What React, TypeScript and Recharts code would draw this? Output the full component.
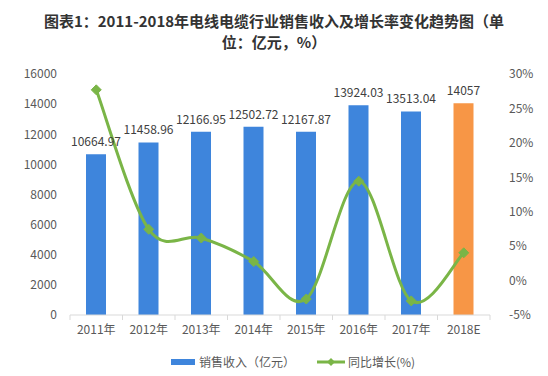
import {
  Bar,
  ComposedChart,
  Cell,
  LabelList,
  Line,
  XAxis,
  YAxis,
} from 'recharts';

const years = ['2011年', '2012年', '2013年', '2014年', '2015年', '2016年', '2017年', '2018E'];
const revenue = [10664.97, 11458.96, 12166.95, 12502.72, 12167.87, 13924.03, 13513.04, 14057];
const growth = [27.7, 7.44, 6.18, 2.76, -2.68, 14.43, -2.95, 4.03];
const leftTicks = [0, 2000, 4000, 6000, 8000, 10000, 12000, 14000, 16000];
const rightTicks = [-5, 0, 5, 10, 15, 20, 25, 30];

const BLUE = '#3e85dc';
const ORANGE = '#f79646';
const GREEN = '#7ab547';
const TEXT = '#595959';
const FONT = '"Noto Sans CJK SC", "Noto Sans", sans-serif';

const chartData = years.map((y, i) => ({ year: y, revenue: revenue[i], growth: growth[i] }));

const BAND = 52.5;

// excel-style smoothed line (catmull-rom through every point)
const smoothCurve = (context: any) => {
  let pts: number[][] = [];
  return {
    areaStart() {},
    areaEnd() {},
    lineStart() {
      pts = [];
    },
    point(x: number, y: number) {
      pts.push([+x, +y]);
    },
    lineEnd() {
      if (!pts.length) return;
      context.moveTo(pts[0][0], pts[0][1]);
      const t = 1 / 6;
      for (let i = 0; i < pts.length - 1; i++) {
        const p0 = pts[i - 1] || pts[i];
        const p1 = pts[i];
        const p2 = pts[i + 1];
        const p3 = pts[i + 2] || p2;
        context.bezierCurveTo(
          p1[0] + (p2[0] - p0[0]) * t,
          p1[1] + (p2[1] - p0[1]) * t,
          p2[0] - (p3[0] - p1[0]) * t,
          p2[1] - (p3[1] - p1[1]) * t,
          p2[0],
          p2[1],
        );
      }
    },
  };
};

function XTick(props: any) {
  const { x, y, payload, index } = props;
  const last = index === years.length - 1;
  return (
    <g>
      <line x1={x - BAND / 2} x2={x - BAND / 2} y1={y - 10} y2={y - 5} stroke="#d9d9d9" />
      {last && <line x1={x + BAND / 2} x2={x + BAND / 2} y1={y - 10} y2={y - 5} stroke="#d9d9d9" />}
      <text x={x} y={y} dy="0.71em" textAnchor="middle" fill={TEXT} fontSize={12} fontFamily={FONT}>
        {payload.value}
      </text>
    </g>
  );
}

function Diamond(props: any) {
  const { cx, cy, index } = props;
  if (cx == null || cy == null) return <g key={index} />;
  const r = 5;
  return (
    <path
      key={index}
      d={`M${cx},${cy - r}L${cx + r},${cy}L${cx},${cy + r}L${cx - r},${cy}Z`}
      fill={GREEN}
      stroke={GREEN}
    />
  );
}

function LegendBox() {
  return (
    <div
      style={{
        position: 'absolute',
        left: 171,
        top: 353,
        display: 'flex',
        alignItems: 'center',
        fontFamily: FONT,
        fontSize: 12,
        color: TEXT,
        whiteSpace: 'nowrap',
      }}
    >
      <span style={{ display: 'inline-block', width: 24, height: 6, background: BLUE, marginRight: 4 }} />
      <span>销售收入（亿元）</span>
      <svg width={28} height={10} style={{ marginLeft: 22, marginRight: 3 }}>
        <line x1={0} x2={28} y1={5} y2={5} stroke={GREEN} strokeWidth={3} />
        <path d="M14,1L18,5L14,9L10,5Z" fill={GREEN} />
      </svg>
      <span>同比增长(%)</span>
    </div>
  );
}

export default function App() {
  return (
    <div style={{ position: 'absolute', left: 0, top: 0, width: 548, height: 376, background: '#fff' }}>
      <div
        style={{
          position: 'absolute',
          left: 0,
          top: 10,
          width: 548,
          textAlign: 'center',
          fontFamily: FONT,
          fontWeight: 700,
          fontSize: 15,
          lineHeight: '21px',
          color: '#333',
        }}
      >
        <div>图表1：2011-2018年电线电缆行业销售收入及增长率变化趋势图（单</div>
        <div>位：亿元，%）</div>
      </div>
      <div style={{ position: 'absolute', left: 0, top: 0 }}>
        <ComposedChart
          width={548}
          height={376}
          data={chartData}
          margin={{ top: 74, right: 0, left: 0, bottom: 36 }}
        >
          <XAxis
            dataKey="year"
            tickLine={false}
            tickSize={0}
            tickMargin={10}
            axisLine={{ stroke: '#d9d9d9' }}
            tick={<XTick />}
            interval={0}
            height={25}
          />
          <YAxis
            yAxisId="left"
            width={70}
            domain={[0, 16000]}
            ticks={leftTicks}
            axisLine={false}
            tickLine={false}
            tickSize={6}
            tickMargin={7}
            tick={{ fill: TEXT, fontSize: 12, fontFamily: FONT }}
          />
          <YAxis
            yAxisId="right"
            orientation="right"
            width={58}
            domain={[-5, 30]}
            ticks={rightTicks}
            axisLine={false}
            tickLine={false}
            tickSize={6}
            tickMargin={13}
            tickFormatter={(v: number) => `${v}%`}
            tick={{ fill: TEXT, fontSize: 12, fontFamily: FONT, textAnchor: 'start' }}
          />
          <Bar yAxisId="left" dataKey="revenue" barSize={20} isAnimationActive={false}>
            {chartData.map((_, i) => (
              <Cell key={i} fill={i === chartData.length - 1 ? ORANGE : BLUE} />
            ))}
            <LabelList
              dataKey="revenue"
              position="top"
              offset={8}
              fill="#404040"
              fontSize={12}
              fontFamily={FONT}
            />
          </Bar>
          <Line
            yAxisId="right"
            type={smoothCurve as any}
            dataKey="growth"
            stroke={GREEN}
            strokeWidth={3}
            dot={Diamond}
            activeDot={false}
            isAnimationActive={false}
          />
        </ComposedChart>
      </div>
      <LegendBox />
    </div>
  );
}
